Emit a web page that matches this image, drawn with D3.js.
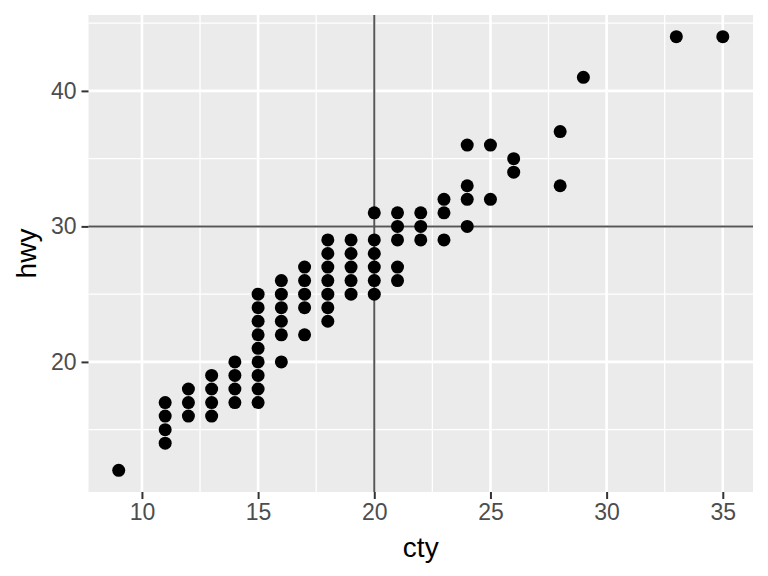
<!DOCTYPE html>
<html><head><meta charset="utf-8">
<script src="https://cdn.jsdelivr.net/npm/d3@7"></script>
<style>body{margin:0;background:#fff}svg{display:block}</style>
</head><body>
<svg id="chart" width="768" height="576"></svg>
<script>
// unique (cty, hwy) pairs visible in the chart
const ctyValues = [9,11,11,11,11,12,12,12,13,13,13,13,14,14,14,14,
  15,15,15,15,15,15,15,15,15,16,16,16,16,16,16,17,17,17,17,17,
  18,18,18,18,18,18,18,19,19,19,19,19,20,20,20,20,20,20,
  21,21,21,21,21,22,22,22,23,23,23,24,24,24,24,25,25,26,26,28,28,29,33,35];
const hwyValues = [12,14,15,16,17,16,17,18,16,17,18,19,17,18,19,20,
  17,18,19,20,21,22,23,24,25,20,22,23,24,25,26,22,24,25,26,27,
  23,24,25,26,27,28,29,25,26,27,28,29,25,26,27,28,29,31,
  26,27,29,30,31,29,30,31,29,31,32,30,32,33,36,32,36,34,35,33,37,41,44,44];
const xTicks = [10,15,20,25,30,35];
const yTicks = [20,30,40];
const xMinor = [12.5,17.5,22.5,27.5,32.5];
const yMinor = [15,25,35,45];
const vLine = 20, hLine = 30;

const svg = d3.select("#chart");
const L = 88.5, R = 753, T = 15, B = 492;
const xr = d3.extent(ctyValues), yr = d3.extent(hwyValues);
const xe = (xr[1]-xr[0])*0.05, ye = (yr[1]-yr[0])*0.05;
const x = d3.scaleLinear().domain([xr[0]-xe, xr[1]+xe]).range([L, R]);
const y = d3.scaleLinear().domain([yr[0]-ye, yr[1]+ye]).range([B, T]);

svg.append("rect").attr("x",L).attr("y",T).attr("width",R-L).attr("height",B-T).attr("fill","#EBEBEB");
const g = svg.append("g");
g.selectAll(".xmin").data(xMinor).join("line").attr("x1",d=>x(d)).attr("x2",d=>x(d)).attr("y1",T).attr("y2",B).attr("stroke","#fff").attr("stroke-width",1.3);
g.selectAll(".ymin").data(yMinor.filter(d=>y(d)>=T)).join("line").attr("class","ymin").attr("y1",d=>y(d)).attr("y2",d=>y(d)).attr("x1",L).attr("x2",R).attr("stroke","#fff").attr("stroke-width",1.3);
g.selectAll(".xmaj").data(xTicks).join("line").attr("class","xmaj").attr("x1",d=>x(d)).attr("x2",d=>x(d)).attr("y1",T).attr("y2",B).attr("stroke","#fff").attr("stroke-width",2.6);
g.selectAll(".ymaj").data(yTicks).join("line").attr("class","ymaj").attr("y1",d=>y(d)).attr("y2",d=>y(d)).attr("x1",L).attr("x2",R).attr("stroke","#fff").attr("stroke-width",2.6);

svg.append("line").attr("x1",x(vLine)).attr("x2",x(vLine)).attr("y1",T).attr("y2",B).attr("stroke","#555").attr("stroke-width",2);
svg.append("line").attr("y1",y(hLine)).attr("y2",y(hLine)).attr("x1",L).attr("x2",R).attr("stroke","#555").attr("stroke-width",2);

const pts = ctyValues.map((c,i)=>({c, h: hwyValues[i]}));
svg.append("g").selectAll("circle").data(pts).join("circle")
  .attr("cx",d=>x(d.c)).attr("cy",d=>y(d.h)).attr("r",6.5).attr("fill","#000");

const font = "'Liberation Sans', Arial, Helvetica, sans-serif";
const xAxis = svg.append("g").attr("transform",`translate(0,${B})`)
  .call(d3.axisBottom(x).tickValues(xTicks).tickSize(7).tickPadding(5));
const yAxis = svg.append("g").attr("transform",`translate(${L},0)`)
  .call(d3.axisLeft(y).tickValues(yTicks).tickSize(7).tickPadding(5));
[xAxis,yAxis].forEach(a=>{
  a.select(".domain").remove();
  a.selectAll(".tick line").attr("stroke","#333").attr("stroke-width",2);
  a.selectAll(".tick text").attr("fill","#4D4D4D").style("font-family",font).style("font-size","23px");
});
svg.append("text").attr("x",(L+R)/2).attr("y",557).attr("text-anchor","middle")
  .style("font-family",font).style("font-size","28px").attr("fill","#000").text("cty");
svg.append("text").attr("transform",`translate(36,${(T+B)/2}) rotate(-90)`).attr("text-anchor","middle")
  .style("font-family",font).style("font-size","28px").attr("fill","#000").text("hwy");
</script>
</body></html>
